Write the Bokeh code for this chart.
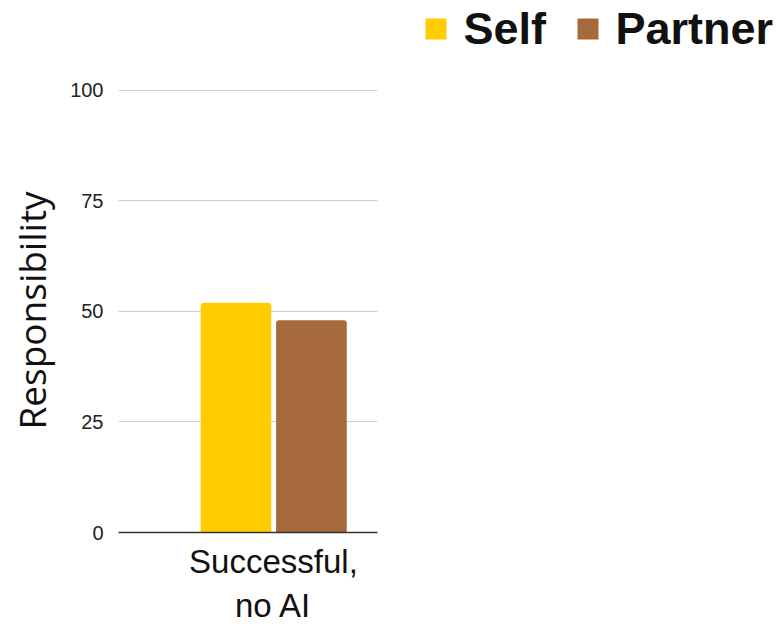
from bokeh.plotting import figure
from bokeh.models import ColumnDataSource, Range1d, FixedTicker
from bokeh.core.properties import value
from bokeh.layouts import column
from bokeh.transform import dodge
from bokeh.embed import file_html
from bokeh.resources import INLINE

# ---- data ----
categories = ["Successful,\nno AI"]
series_names = ["Self", "Partner"]
self_values = [52]
partner_values = [48]
y_ticks = [0, 25, 50, 75, 100]
colors = ["#FFCC00", "#A6693C"]

cat_pos = list(range(len(categories)))
source = ColumnDataSource(dict(x=cat_pos, self_v=self_values, partner_v=partner_values))

LEG_H = 60

# ---- main chart ----
p = figure(width=779, height=626 - LEG_H, output_backend="svg", toolbar_location=None,
           x_range=Range1d(-0.849, 0.570), y_range=Range1d(0, 100.45),
           min_border_left=118, min_border_right=402, min_border_top=88 - LEG_H,
           min_border_bottom=94)
p.outline_line_color = None
p.frame_align = False

r_self = p.vbar(x=dodge("x", -0.2055), top="self_v", width=0.387, source=source,
                fill_color=colors[0], line_color=None, border_radius=(3, 3, 0, 0))
r_partner = p.vbar(x=dodge("x", 0.208), top="partner_v", width=0.387, source=source,
                   fill_color=colors[1], line_color=None, border_radius=(3, 3, 0, 0))

p.xgrid.grid_line_color = None
p.ygrid.grid_line_color = "#cccccc"
p.ygrid.grid_line_width = 1.2
p.yaxis.ticker = FixedTicker(ticks=y_ticks)
p.xaxis.ticker = FixedTicker(ticks=cat_pos)
p.xaxis.major_label_overrides = {i: c for i, c in enumerate(categories)}

for ax in (p.xaxis[0], p.yaxis[0]):
    ax.major_tick_line_color = None
    ax.minor_tick_line_color = None
    ax.major_label_text_font = "Liberation Sans"
    ax.major_label_text_color = "#222222"

p.yaxis.axis_line_color = None
p.yaxis.major_label_text_font_size = "20px"
p.yaxis.major_label_standoff = 9
p.yaxis.axis_label = "Responsibility"
p.yaxis.axis_label_text_font = "Open Sans"
p.yaxis.axis_label_text_font_style = "normal"
p.yaxis.axis_label_text_font_size = "37px"
p.yaxis.axis_label_text_line_height = 1.0
p.yaxis.axis_label_text_color = "#111111"
p.yaxis.axis_label_standoff = 10

p.xaxis.axis_line_color = "#333333"
p.xaxis.axis_line_width = 1.6
p.xaxis.major_label_text_font_size = "33px"
p.xaxis.major_label_text_line_height = 1.2
p.xaxis.major_label_text_color = "#111111"
p.xaxis.major_label_standoff = 4

# ---- legend strip (drawn with glyphs) ----
lg = figure(width=779, height=LEG_H, output_backend="svg", toolbar_location=None,
            x_range=Range1d(0, 779), y_range=Range1d(LEG_H, 0),
            min_border=0, min_border_left=0, min_border_right=0,
            min_border_top=0, min_border_bottom=0)
lg.frame_align = False
lg.axis.visible = False
lg.grid.visible = False
lg.outline_line_color = None

sq_left = [425, 577]
sq_size = 21
text_x = [l + 38 for l in sq_left]
leg_src = ColumnDataSource(dict(
    sx=[l + sq_size / 2 for l in sq_left], sy=[28.5] * len(series_names),
    tx=text_x, ty=[28] * len(series_names),
    name=series_names, color=colors))
lg.rect(x="sx", y="sy", width=sq_size, height=sq_size, source=leg_src,
        fill_color="color", line_color=None)
lg.text(x="tx", y="ty", text="name", source=leg_src,
        text_font=value("Liberation Sans"), text_font_style="bold",
        text_font_size="45px", text_color="#111111",
        text_align="left", text_baseline="middle")

layout = column(lg, p, spacing=0)
open("out.html", "w").write(file_html(layout, INLINE))
